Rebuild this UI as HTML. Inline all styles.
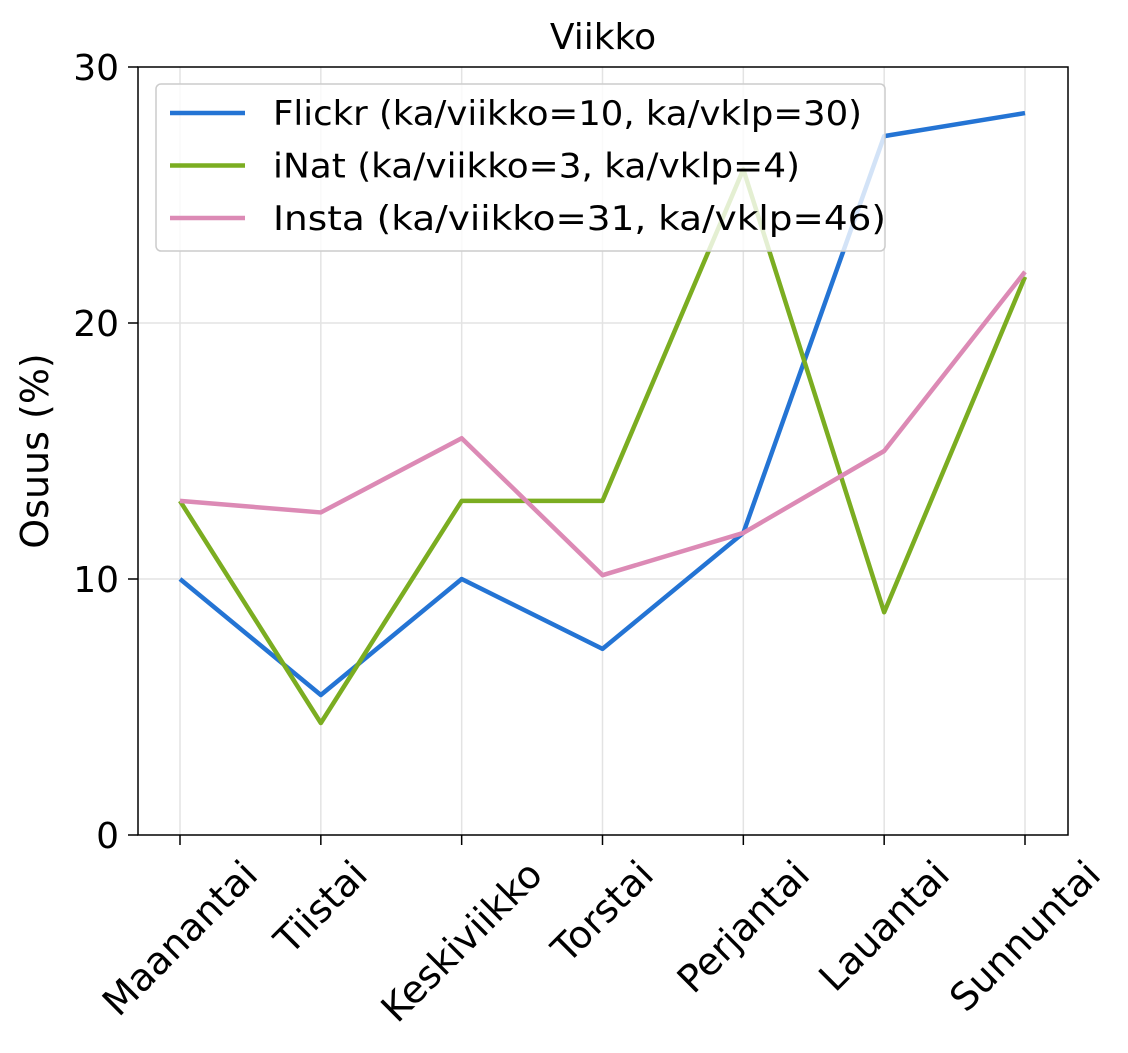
<!DOCTYPE html>
<html><head><meta charset="utf-8"><style>
html,body{margin:0;padding:0;background:#fff;}
svg{display:block;font-family:"DejaVu Sans","Liberation Sans",sans-serif;}
</style></head><body>
<svg id="chart" width="1128" height="1053" viewBox="0 0 1128 1053">
<g id="grid"></g>
<g id="series"></g>
<rect x="138" y="67" width="930" height="768" fill="none" stroke="#000" stroke-width="1.5"/>
<g id="axes"></g>
<text x="603" y="49" font-size="36" text-anchor="middle">Viikko</text>
<text transform="translate(48,451) rotate(-90)" font-size="38" text-anchor="middle">Osuus (%)</text>
<g id="legend"></g>
</svg>
<script>
const categories = ["Maanantai","Tiistai","Keskiviikko","Torstai","Perjantai","Lauantai","Sunnuntai"];
const flickr = [10.0, 5.47, 10.0, 7.27, 11.8, 27.3, 28.2];
const inat = [13.05, 4.375, 13.05, 13.05, 26.0, 8.7, 21.8];
const insta = [13.05, 12.6, 15.5, 10.15, 11.8, 15.0, 22.0];
const yTicks = [0, 10, 20, 30];
const seriesNames = ["Flickr (ka/viikko=10, ka/vklp=30)","iNat (ka/viikko=3, ka/vklp=4)","Insta (ka/viikko=31, ka/vklp=46)"];
const legendWidths = [589, 527, 613];

const NS = "http://www.w3.org/2000/svg";
const x = i => 180 + i * (1025 - 180) / (categories.length - 1);
const y = v => 835 - v * (768 / 30);
function mk(tag, attrs, parent){const e=document.createElementNS(NS,tag);for(const k in attrs)e.setAttribute(k,attrs[k]);parent.appendChild(e);return e;}
const grid=document.getElementById('grid'), axes=document.getElementById('axes'), series=document.getElementById('series'), legend=document.getElementById('legend');

categories.forEach((c,i)=>{
  const g=mk('line',{x1:x(i),x2:x(i),y1:67,y2:835,stroke:'#e3e3e3','stroke-width':1.5},grid);
  
  
  const t=mk('line',{x1:x(i),x2:x(i),y1:835,y2:845,stroke:'#000','stroke-width':1.5},axes);
  
  
  const lb=mk('text',{'font-size':38,'text-anchor':'middle','dominant-baseline':'central'},axes);
  lb.textContent=c;
  
  
  const L=lb.getComputedTextLength();
  const h=(L+36)*0.7071;
  lb.setAttribute('transform',`translate(${x(i)},${855+h/2}) rotate(-45)`);
});
yTicks.forEach(v=>{
  if(v>0&&v<30){const g=mk('line',{x1:138,x2:1068,y1:y(v),y2:y(v),stroke:'#e3e3e3','stroke-width':1.5},grid);
  
  }
  const t=mk('line',{x1:128,x2:138,y1:y(v),y2:y(v),stroke:'#000','stroke-width':1.5},axes);
  
  
  const lb=mk('text',{x:119,y:y(v)+13,'font-size':36,'text-anchor':'end'},axes);
  lb.textContent=v;
  
  
});
const colors=['#2474d4','#7bad21','#dc8ab5'];
[flickr,inat,insta].forEach((d,s)=>{
  const p=mk('polyline',{points:d.map((v,i)=>x(i)+','+y(v)).join(' '),fill:'none',stroke:colors[s],'stroke-width':4.5,'stroke-linejoin':'round'},series);
  
  
});
const box=mk('rect',{x:156,y:84,width:729,height:167,rx:5,fill:'#fff','fill-opacity':0.8,stroke:'#cccccc','stroke-width':1.5},legend);


seriesNames.forEach((n,s)=>{
  const ly=113+s*52.5;
  const l=mk('line',{x1:170,x2:245,y1:ly,y2:ly,stroke:colors[s],'stroke-width':4.5},legend);
  
  
  const t=mk('text',{x:273,y:ly+12,'font-size':34,textLength:legendWidths[s],lengthAdjust:'spacingAndGlyphs'},legend);
  t.textContent=n;
  
  
});
</script>
</body></html>
